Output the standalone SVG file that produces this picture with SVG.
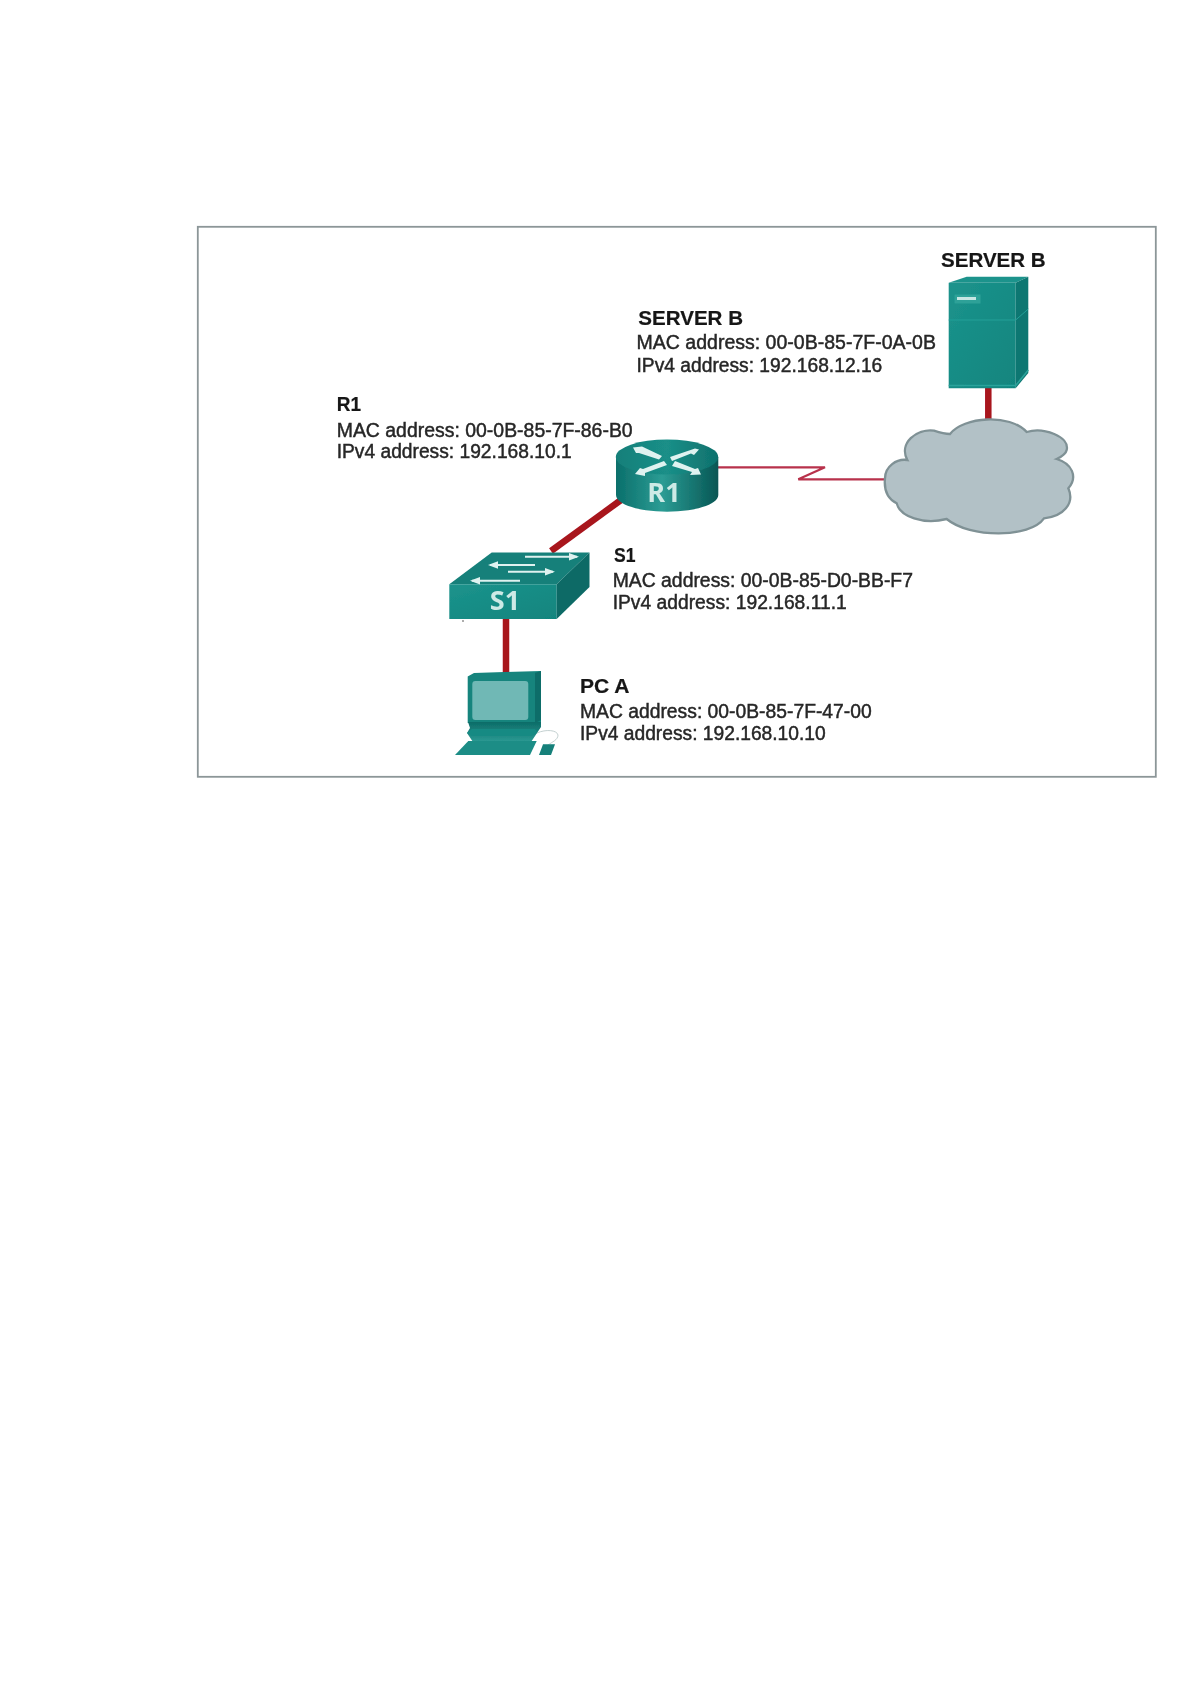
<svg xmlns="http://www.w3.org/2000/svg" width="1190" height="1684" viewBox="0 0 1190 1684">
  <style>
    .title { font: bold 20px "Liberation Sans", Arial, sans-serif; fill: #151515; stroke: #151515; stroke-width: .2; }
    .info { font: 19.4px "Liberation Sans", Arial, sans-serif; fill: #262626; stroke: #262626; stroke-width: .45; }
    .badge { font: bold 27px "Open Sans", "DejaVu Sans", sans-serif; fill: #cdeae6; text-anchor: middle; }
    .eth { fill: none; stroke: #a8121e; stroke-width: 6.5; }
    .wan { fill: none; stroke: #b8324c; stroke-width: 2.2; }
    .harrow { fill: none; stroke: #dff2f0; stroke-width: 2; }
    .wedge { fill: #dff2f0; }
  </style>
  <defs>
    <filter id="soft" filterUnits="userSpaceOnUse" x="0" y="0" width="1190" height="1684">
      <feGaussianBlur stdDeviation=".45"/>
    </filter>
    <marker id="head" markerWidth="5" markerHeight="5" refX="4" refY="2.5" orient="auto" markerUnits="strokeWidth">
      <path d="M0 .6 L5 2.5 L0 4.4 Z" fill="#dff2f0"/>
    </marker>
    <linearGradient id="routerSide" x1="0" x2="1" y1="0" y2="0">
      <stop offset="0" stop-color="#0b6f6b"/>
      <stop offset=".45" stop-color="#2b9c94"/>
      <stop offset="1" stop-color="#075654"/>
    </linearGradient>
    <linearGradient id="routerTop" x1="0" x2="1" y1="0" y2="0">
      <stop offset="0" stop-color="#167f79"/>
      <stop offset=".5" stop-color="#1a8f88"/>
      <stop offset="1" stop-color="#0f716d"/>
    </linearGradient>
    <linearGradient id="frontFace" x1="0" x2="1" y1="0" y2="1">
      <stop offset="0" stop-color="#1c938c"/>
      <stop offset="1" stop-color="#11857e"/>
    </linearGradient>
    <linearGradient id="pcBase" x1="0" x2="0" y1="0" y2="1">
      <stop offset="0" stop-color="#0c6c68"/>
      <stop offset="1" stop-color="#2b9a93"/>
    </linearGradient>
  </defs>

  <g filter="url(#soft)">
  <rect id="frame" x="197.8" y="226.8" width="958" height="550" fill="#fff" stroke="#8c9698" stroke-width="1.8"/>

  <g id="connectors">
    <path class="eth" d="M988.3 386V421"/>
    <path class="eth" d="M621 500L551 551"/>
    <path class="eth" d="M506 618V673"/>
    <path class="wan" d="M718 467.3H825L798.3 479.3H886"/>
  </g>

  <g id="node-server-b">
    <path d="M948.7 282.7L966.7 276.7H1028.3L1015.7 282.7Z" fill="#1f938c"/>
    <path d="M948.7 282.7H1015.7V388.3H948.7Z" fill="url(#frontFace)"/>
    <path d="M1015.7 282.7L1028.3 276.7V373L1015.7 388.3Z" fill="#0e7772"/>
    <path d="M948.7 320H1015.7L1028.3 309" fill="none" stroke="#23a098" stroke-width="1"/>
    <path d="M948.7 385.5H1015.7L1028.3 370" fill="none" stroke="#2ba39b" stroke-width="1.5"/>
    <rect x="954.5" y="294.5" width="26" height="9" fill="#2fa198"/>
    <rect x="957" y="297" width="19" height="3" fill="#c7e6e3"/>
    <text class="title" x="941" y="267.3" textLength="104.7" lengthAdjust="spacingAndGlyphs">SERVER B</text>
    <text class="title" x="638.3" y="325" textLength="104.7" lengthAdjust="spacingAndGlyphs">SERVER B</text>
    <text class="info" x="636.5" y="349" textLength="299.5" lengthAdjust="spacingAndGlyphs">MAC address: 00-0B-85-7F-0A-0B</text>
    <text class="info" x="636.5" y="371.7" textLength="245.8" lengthAdjust="spacingAndGlyphs">IPv4 address: 192.168.12.16</text>
  </g>

  <g id="node-cloud">
    <path transform="translate(680 210) scale(.33333)" d="M615 805C615 770 650 745 682 750C655 700 710 655 762 662C780 668 795 672 810 672C850 620 990 610 1040 666C1090 650 1170 680 1160 720C1158 730 1145 740 1130 747C1175 760 1195 800 1165 835C1185 880 1150 920 1092 925C1050 985 870 985 800 927C730 945 660 920 650 880C620 865 612 835 615 805Z" fill="#b2c1c6" stroke="#7f9195" stroke-width="7"/>
  </g>

  <g id="node-r1">
    <path d="M616 457V495C616 505 641 511.7 667 511.7C693 511.7 718.3 505 718.3 495V457Z" fill="url(#routerSide)"/>
    <ellipse cx="667" cy="457" rx="51.2" ry="17.5" fill="url(#routerTop)"/>
    <path class="wedge" d="M633 447.5L642 446.5L662 456L659 459.5L639 453L636 453Z"/>
    <path class="wedge" d="M670 457L695 448.5L699 449.5L694 455L691 453.5L672 461Z"/>
    <path class="wedge" d="M664 461L667 465L645 473L645 476L635 474L640 468L643 469Z"/>
    <path class="wedge" d="M672 466L675 461L695 469L698 468L701 474.5L690 475L692 472Z"/>
    <text class="badge" x="664" y="501.7">R1</text>
    <text class="title" x="336.7" y="411" textLength="24.3" lengthAdjust="spacingAndGlyphs">R1</text>
    <text class="info" x="336.7" y="436.7" textLength="296" lengthAdjust="spacingAndGlyphs">MAC address: 00-0B-85-7F-86-B0</text>
    <text class="info" x="336.7" y="458.3" textLength="235" lengthAdjust="spacingAndGlyphs">IPv4 address: 192.168.10.1</text>
  </g>

  <g id="node-s1">
    <path d="M491.7 552.5H589.5L556.7 584.3H449.3Z" fill="#16807a"/>
    <path d="M449.3 584.3H556.7V619H449.3Z" fill="url(#frontFace)"/>
    <path d="M556.7 584.3L589.5 552.5V587L556.7 619Z" fill="#0b6a66"/>
    <path class="harrow" marker-end="url(#head)" d="M525 556.7H577"/>
    <path class="harrow" marker-end="url(#head)" d="M535 565H490"/>
    <path class="harrow" marker-end="url(#head)" d="M508 571.7H553"/>
    <path class="harrow" marker-end="url(#head)" d="M520 580.7H472"/>
    <circle cx="463" cy="621" r=".8" fill="#444"/>
    <text class="badge" x="505" y="610">S1</text>
    <text class="title" x="614" y="562.3" textLength="21.5" lengthAdjust="spacingAndGlyphs">S1</text>
    <text class="info" x="612.7" y="586.7" textLength="300.3" lengthAdjust="spacingAndGlyphs">MAC address: 00-0B-85-D0-BB-F7</text>
    <text class="info" x="612.7" y="609" textLength="234" lengthAdjust="spacingAndGlyphs">IPv4 address: 192.168.11.1</text>
  </g>

  <g id="node-pc-a">
    <path d="M537 733C546 729 557 730 558 735C558 740 552 742 548 745" fill="none" stroke="#b4c4c4" stroke-width=".8"/>
    <path d="M467.7 676.5L474 673L541 671V723H467.7Z" fill="#14847d"/>
    <path d="M535 673L541 671V720L535 723Z" fill="#0c6d69"/>
    <rect x="472.3" y="681" width="56" height="39" rx="3" fill="#6fb8b5"/>
    <path d="M468 722H541V727L537 733L531 742H473L467 733L470 728Z" fill="url(#pcBase)"/>
    <path d="M467 733L472 729H535L537 733L531 736H472Z" fill="#168a83"/>
    <path d="M468.3 741H536.7L530 755H455Z" fill="#1a8d86"/>
    <path d="M543 744.3H555L551 755H539Z" fill="#12807a"/>
    <text class="title" x="580" y="692.7" textLength="49.5" lengthAdjust="spacingAndGlyphs">PC A</text>
    <text class="info" x="580" y="717.7" textLength="291.7" lengthAdjust="spacingAndGlyphs">MAC address: 00-0B-85-7F-47-00</text>
    <text class="info" x="580" y="740" textLength="245.7" lengthAdjust="spacingAndGlyphs">IPv4 address: 192.168.10.10</text>
  </g>
  </g>
</svg>
